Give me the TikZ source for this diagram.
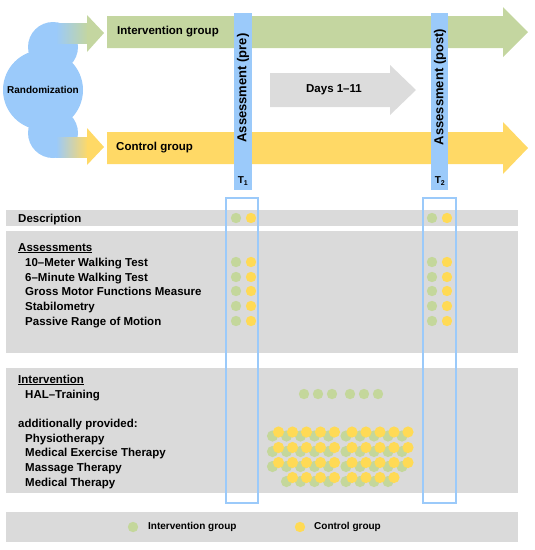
\documentclass[tikz,border=0pt]{standalone}
\usepackage{fontspec}
\setmainfont{Liberation Sans}
\definecolor{cblue}{RGB}{155,202,250}
\definecolor{cgreen}{RGB}{196,214,160}
\definecolor{cyellow}{RGB}{255,217,102}
\definecolor{cgray}{RGB}{218,218,218}
\definecolor{arrgray}{RGB}{220,220,220}
\definecolor{dgreen}{RGB}{196,215,155}
\definecolor{dyellow}{RGB}{255,218,85}
\newcommand\grdot[2]{\fill[dgreen] (#1,#2) circle (5.2);}
\newcommand\yedot[2]{\fill[dyellow] (#1,#2) circle (5.2);}
\newcommand\grbig[2]{\fill[dgreen] (#1,#2) circle (5.6);}
\newcommand\yebig[2]{\fill[dyellow] (#1,#2) circle (5.6);}
\begin{document}
\begin{tikzpicture}[x=1pt,y=-1pt,
  lbl/.style={font=\fontsize{11.5}{13}\selectfont\bfseries, inner sep=0pt, anchor=base west},
  band/.style={font=\fontsize{11.5}{13}\selectfont\bfseries, inner sep=0pt, anchor=west},
  leg/.style={font=\fontsize{10}{12}\selectfont\bfseries, inner sep=0pt, anchor=west},
  vlbl/.style={font=\fontsize{13}{15}\selectfont\bfseries, inner sep=0pt, rotate=90},
  tlbl/.style={font=\fontsize{10}{12}\selectfont\bfseries, inner sep=0pt},
  panel/.style={fill=cgray},
  outl/.style={draw=cblue, line width=1.5pt}]
\useasboundingbox (0,0) rectangle (535,550);

% big group arrows
\fill[cgreen] (107,16) -- (503,16) -- (503,7) -- (528,32) -- (503,57) -- (503,48) -- (107,48) -- cycle;
\fill[cyellow] (107,132) -- (503,132) -- (503,122) -- (528,148) -- (503,174) -- (503,164) -- (107,164) -- cycle;
\node[band] (ig) at (117,32) {Intervention group};
\node[band] (cg) at (116,148) {Control group};

% days arrow
\fill[arrgray] (270,73) -- (390,73) -- (390,65) -- (416,90) -- (390,115) -- (390,107) -- (270,107) -- cycle;
\node[font=\fontsize{11.5}{13}\selectfont\bfseries, inner sep=0pt] (days) at (334,90) {Days 1--11};

% randomization cloud
\fill[cblue] (53,47) circle (25);
\fill[cblue] (53,133) circle (25);
\fill[cblue] (43,90) circle (40);
\shade[left color=cblue, right color=cgreen] (56,23) rectangle (88,43);
\shade[left color=cblue, right color=cyellow] (56,137) rectangle (88,157);
\fill[cgreen] (87,15) -- (104,33) -- (87,52) -- cycle;
\fill[cyellow] (87,128) -- (104,147) -- (87,165) -- cycle;
\node[font=\fontsize{10}{12}\selectfont\bfseries, inner sep=0pt] (rand) at (43,90) {Randomization};

% assessment bars
\fill[cblue] (234,13) rectangle (252,190);
\fill[cblue] (431,13) rectangle (448,190);
\node[vlbl] (apre) at (243,88) {Assessment (pre)};
\node[vlbl] (apost) at (440,87) {Assessment (post)};
\node[tlbl] (t1) at (243,181) {T\textsubscript{1}};
\node[tlbl] (t2) at (440,181) {T\textsubscript{2}};

% panels
\fill[panel] (6,210) rectangle (518,226);
\fill[panel] (6,231) rectangle (518,353);
\fill[panel] (6,368) rectangle (518,493);
\fill[panel] (6,512) rectangle (518,542);

% outlines
\draw[outl] (226,198) rectangle (258,503);
\draw[outl] (423,198) rectangle (456,503);

% texts
\node[lbl] (desc) at (18,222) {Description};
\node[lbl] (ass) at (18,251) {\underline{Assessments}};
\node[lbl] (a1) at (25,266) {10--Meter Walking Test};
\node[lbl] (a2) at (25,281) {6--Minute Walking Test};
\node[lbl] (a3) at (25,295) {Gross Motor Functions Measure};
\node[lbl] (a4) at (25,310) {Stabilometry};
\node[lbl] (a5) at (25,325) {Passive Range of Motion};
\node[lbl] (int) at (18,383) {\underline{Intervention}};
\node[lbl] (hal) at (25,398) {HAL--Training};
\node[lbl] (add) at (18,427) {additionally provided:};
\node[lbl] (p1) at (25,442) {Physiotherapy};
\node[lbl] (p2) at (25,456) {Medical Exercise Therapy};
\node[lbl] (p3) at (25,471) {Massage Therapy};
\node[lbl] (p4) at (25,486) {Medical Therapy};

% assessment dots
\foreach \y in {218,262,277,291,306,321} {
  \grdot{236}{\y} \yedot{251}{\y}
  \grdot{432}{\y} \yedot{447}{\y}
}
% HAL dots
\foreach \x in {304,318,332,350,364,378} {\grdot{\x}{394}}
% additional therapy dots
\foreach \x in {278.5,292.5,306.5,320.5,334.5,352,366,380,394,408} {
  \foreach \y in {432,447.5,462.5} {\grbig{\x-6}{\y+4}}
}
\foreach \x in {292.5,306.5,320.5,334.5,352,366,380,394} {\grbig{\x-6}{481.5}}
\foreach \x in {278.5,292.5,306.5,320.5,334.5,352,366,380,394,408} {
  \foreach \y in {432,447.5,462.5} {\yebig{\x}{\y}}
}
\foreach \x in {292.5,306.5,320.5,334.5,352,366,380,394} {\yebig{\x}{477.5}}

% legend
\grdot{133}{527}
\node[leg] (lig) at (148,527) {Intervention group};
\yedot{300}{527}
\node[leg] (lcg) at (314,527) {Control group};
\end{tikzpicture}
\end{document}
